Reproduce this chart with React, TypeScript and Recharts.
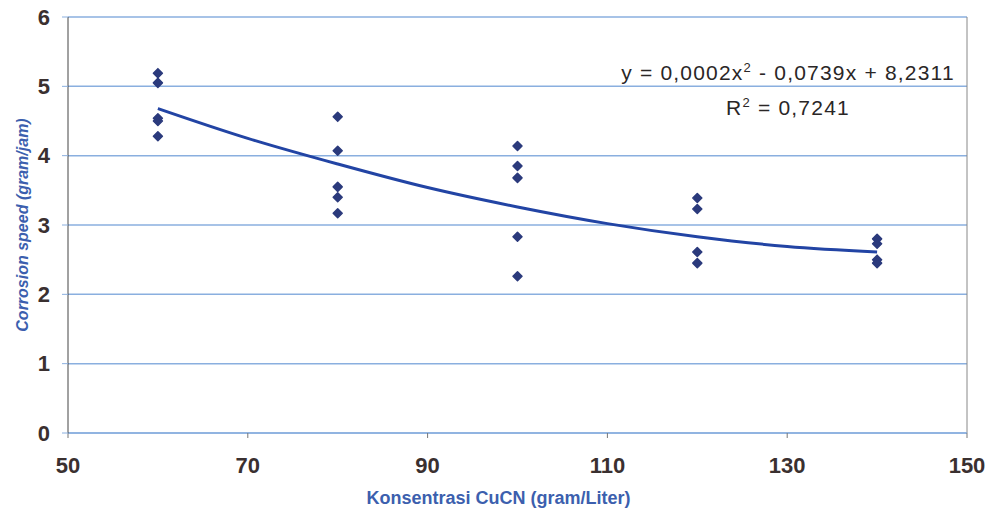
import { ComposedChart, Scatter, Line, XAxis, YAxis, CartesianGrid, ReferenceLine } from "recharts";

// measured corrosion speed per CuCN concentration
const conc60 = [5.19, 5.05, 4.54, 4.5, 4.28];
const conc80 = [4.56, 4.07, 3.55, 3.4, 3.17];
const conc100 = [4.14, 3.85, 3.68, 2.83, 2.26];
const conc120 = [3.39, 3.23, 2.61, 2.45];
const conc140 = [2.8, 2.73, 2.5, 2.45];

// polynomial trend line
const trendX = [60, 70, 80, 90, 100, 110, 120, 130, 140];
const trendY = [4.68, 4.25, 3.88, 3.54, 3.26, 3.02, 2.83, 2.69, 2.61];

const xTicks = [50, 70, 90, 110, 130, 150];
const yTicks = [0, 1, 2, 3, 4, 5, 6];

const points = [
  ...conc60.map((y) => ({ x: 60, y })),
  ...conc80.map((y) => ({ x: 80, y })),
  ...conc100.map((y) => ({ x: 100, y })),
  ...conc120.map((y) => ({ x: 120, y })),
  ...conc140.map((y) => ({ x: 140, y })),
];
const trend = trendX.map((x, i) => ({ x, y: trendY[i] }));

const font = "Liberation Sans, Arial, sans-serif";
const tickStyle = { fontFamily: font, fontSize: 22, fontWeight: 700, fill: "#3a3030" };
const titleStyle = { fontFamily: font, fontSize: 18, fontWeight: 700, fill: "#3c5fae" };

function Diamond(props: any) {
  const { cx, cy } = props;
  if (cx == null || cy == null) return null;
  const r = 4.5;
  return (
    <path
      d={`M${cx},${cy - r}L${cx + r},${cy}L${cx},${cy + r}L${cx - r},${cy}Z`}
      fill="#2b3a7c"
      stroke="#2b3a7c"
      strokeWidth={1.5}
      strokeLinejoin="round"
    />
  );
}

export default function App() {
  return (
    <div style={{ position: "absolute", left: 0, top: 0, width: 991, height: 509, background: "#fff" }}>
      <ComposedChart width={991} height={509} margin={{ top: 17, right: 24, bottom: 0, left: 0 }}>
        <CartesianGrid vertical={false} stroke="#8aafdf" strokeWidth={1.5} />
        <XAxis
          type="number"
          dataKey="x"
          domain={[50, 150]}
          ticks={xTicks}
          height={76}
          axisLine={{ stroke: "#8aafdf", strokeWidth: 1.5 }}
          tickLine={{ stroke: "#777" }}
          tickSize={5}
          tickMargin={19}
          tick={tickStyle}
          label={{ value: "Konsentrasi CuCN (gram/Liter)", position: "insideBottom", offset: 5, dx: -19, style: titleStyle }}
        />
        <YAxis
          type="number"
          domain={[0, 6]}
          ticks={yTicks}
          width={68}
          axisLine={{ stroke: "#444" }}
          tickLine={{ stroke: "#8aafdf" }}
          tickSize={6}
          tickMargin={12}
          tick={tickStyle}
          label={{
            value: "Corrosion speed (gram/jam)",
            angle: -90,
            position: "insideLeft",
            offset: 22,
            style: { ...titleStyle, fontSize: 16, fontStyle: "italic", textAnchor: "middle" },
          }}
        />
        <ReferenceLine x={150} stroke="#888" />
        <Line
          data={trend}
          dataKey="y"
          type="monotone"
          stroke="#2244a4"
          strokeWidth={3}
          dot={false}
          isAnimationActive={false}
        />
        <Scatter data={points} dataKey="y" shape={Diamond} isAnimationActive={false} />
      </ComposedChart>
      <div
        style={{
          position: "absolute",
          left: 588,
          top: 55,
          width: 400,
          textAlign: "center",
          fontFamily: font,
          fontSize: 21,
          letterSpacing: 1.2,
          color: "#2a2626",
          lineHeight: "35px",
        }}
      >
        <div>
          y = 0,0002x<sup style={{ fontSize: 13, lineHeight: 0 }}>2</sup> - 0,0739x + 8,2311
        </div>
        <div>
          R<sup style={{ fontSize: 13, lineHeight: 0 }}>2</sup> = 0,7241
        </div>
      </div>
    </div>
  );
}
